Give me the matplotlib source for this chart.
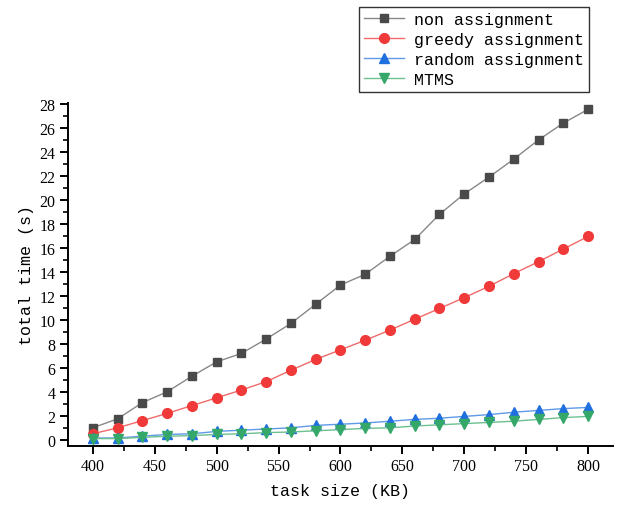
import numpy as np
import matplotlib.pyplot as plt
from matplotlib.ticker import MultipleLocator

# task size (KB)
task_size = [400, 420, 440, 460, 480, 500, 520, 540, 560, 580, 600,
             620, 640, 660, 680, 700, 720, 740, 760, 780, 800]

# total time (s) for each strategy
non_assign = [1.0, 1.75, 3.1, 4.0, 5.3, 6.5, 7.2, 8.4, 9.7, 11.3, 12.9,
              13.8, 15.3, 16.7, 18.8, 20.5, 21.9, 23.4, 25.0, 26.4, 27.55]
greedy_assign = [0.5, 1.0, 1.6, 2.2, 2.85, 3.5, 4.15, 4.85, 5.8, 6.7, 7.5,
                 8.3, 9.15, 10.05, 10.95, 11.85, 12.8, 13.85, 14.85, 15.9, 16.95]
random_assign = [0.15, 0.15, 0.3, 0.45, 0.5, 0.7, 0.8, 0.9, 1.0, 1.2, 1.3,
                 1.4, 1.55, 1.7, 1.8, 1.95, 2.1, 2.3, 2.45, 2.6, 2.7]
mtms = [0.1, 0.1, 0.2, 0.3, 0.35, 0.45, 0.5, 0.6, 0.65, 0.75, 0.85,
        0.95, 1.0, 1.15, 1.25, 1.35, 1.45, 1.55, 1.7, 1.85, 1.95]

series = [
    ('non assignment', non_assign, 's', 6.0, '#4a4a4a', '#888888'),
    ('greedy assignment', greedy_assign, 'o', 7.0, '#f03a3a', '#f06a6a'),
    ('random assignment', random_assign, '^', 7.0, '#1f6fdf', '#5f9ae8'),
    ('MTMS', mtms, 'v', 7.0, '#35a869', '#6cc08f'),
]

mono = 'Liberation Mono'
serif = 'Liberation Serif'

fig = plt.figure(figsize=(6.19, 5.06), dpi=100)
ax = fig.add_axes([0.110, 0.117, 0.880, 0.678])

for label, vals, mk, ms, mcolor, lcolor in series:
    ax.plot(task_size, vals, color=lcolor, linewidth=1.0, marker=mk,
            markersize=ms, markerfacecolor=mcolor,
            markeredgecolor=mcolor, label=label)

ax.set_xlim(380, 820)
ax.set_ylim(-0.5, 28.1)
ax.xaxis.set_major_locator(MultipleLocator(50))
ax.xaxis.set_minor_locator(MultipleLocator(25))
ax.yaxis.set_major_locator(MultipleLocator(2))
ax.yaxis.set_minor_locator(MultipleLocator(1))

ax.spines['top'].set_visible(False)
ax.spines['right'].set_visible(False)
for sp in ['left', 'bottom']:
    ax.spines[sp].set_linewidth(1.4)

ax.tick_params(which='major', direction='out', length=6, width=1.4,
               labelsize=11.5, pad=3)
ax.tick_params(which='minor', direction='out', length=3.5, width=1.2)
for t in ax.get_xticklabels() + ax.get_yticklabels():
    t.set_fontfamily(serif)

ax.set_xlabel('task size (KB)', fontfamily=mono, fontsize=12, labelpad=6)
ax.set_ylabel('total time (s)', fontfamily=mono, fontsize=12, labelpad=4)

leg = fig.legend(loc='upper right', bbox_to_anchor=(0.951, 0.984),
                 prop={'family': mono, 'size': 12}, frameon=True,
                 fancybox=False, edgecolor='black', handlelength=2.4,
                 labelspacing=0.3, borderpad=0.3, handletextpad=0.6,
                 borderaxespad=0)
leg.get_frame().set_linewidth(1.0)

fig.savefig('out.png', dpi=100)
plt.close(fig)
